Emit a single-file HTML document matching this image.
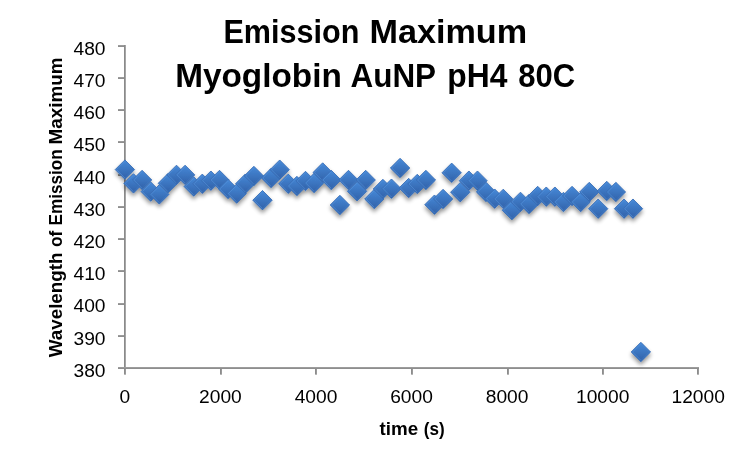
<!DOCTYPE html>
<html><head><meta charset="utf-8"><style>
html,body{margin:0;padding:0;background:#fff;width:751px;height:450px;overflow:hidden}
svg{display:block;will-change:transform}
text{font-family:"Liberation Sans",sans-serif;fill:#000}
</style></head><body>
<svg width="751" height="450" viewBox="0 0 751 450">
<defs>
<linearGradient id="g" x1="0" y1="0" x2="0" y2="1">
<stop offset="0" stop-color="#4689d8"/>
<stop offset="1" stop-color="#3161a8"/>
</linearGradient>
<filter id="sh" x="-50%" y="-50%" width="200%" height="200%">
<feGaussianBlur in="SourceAlpha" stdDeviation="2"/>
<feOffset dx="0" dy="3" result="b"/>
<feComponentTransfer><feFuncA type="linear" slope="0.42"/></feComponentTransfer>
<feMerge><feMergeNode/><feMergeNode in="SourceGraphic"/></feMerge>
</filter>
<g id="m"><polygon points="0,-9.7 9.7,0 0,9.7 -9.7,0" fill="url(#g)" stroke="#3a6fb8" stroke-width="0.9"/><polyline points="0,-8.3 -8.3,0 0,8.3" fill="none" stroke="#5a97e0" stroke-opacity="0.5" stroke-width="1"/><polyline points="0,-8.3 8.3,0 0,8.3" fill="none" stroke="#5592dc" stroke-opacity="0.2" stroke-width="0.9"/></g>
</defs>

<text transform="translate(225.30 42.6) scale(0.9411 1) translate(-2 0)" font-weight="bold" font-size="32.5">Emission</text>
<text transform="translate(371.50 42.6) scale(1.0527 1) translate(-2 0)" font-weight="bold" font-size="32.5">Maximum</text>
<text transform="translate(177.20 86.6) scale(1.0264 1) translate(-2 0)" font-weight="bold" font-size="32.5">Myoglobin</text>
<text transform="translate(351.50 86.6) scale(0.9667 1) translate(-1 0)" font-weight="bold" font-size="32.5">AuNP</text>
<text transform="translate(449.30 86.6) scale(0.9783 1) translate(-2 0)" font-weight="bold" font-size="32.5">pH4</text>
<text transform="translate(519.20 86.6) scale(0.9552 1) translate(-1 0)" font-weight="bold" font-size="32.5">80C</text>
<g shape-rendering="crispEdges">
<rect x="124" y="45" width="1" height="324" fill="#8a8a8a"/>
<rect x="125" y="45" width="1" height="324" fill="#a6a6a6"/>
<rect x="124" y="367" width="575" height="1" fill="#9c9c9c"/>
<rect x="124" y="368" width="575" height="1" fill="#8e8e8e"/>
<rect x="118" y="45" width="6" height="1" fill="#9c9c9c"/>
<rect x="118" y="46" width="6" height="1" fill="#8e8e8e"/>
<rect x="118" y="77" width="6" height="1" fill="#9c9c9c"/>
<rect x="118" y="78" width="6" height="1" fill="#8e8e8e"/>
<rect x="118" y="109" width="6" height="1" fill="#9c9c9c"/>
<rect x="118" y="110" width="6" height="1" fill="#8e8e8e"/>
<rect x="118" y="141" width="6" height="1" fill="#9c9c9c"/>
<rect x="118" y="142" width="6" height="1" fill="#8e8e8e"/>
<rect x="118" y="174" width="6" height="1" fill="#9c9c9c"/>
<rect x="118" y="175" width="6" height="1" fill="#8e8e8e"/>
<rect x="118" y="206" width="6" height="1" fill="#9c9c9c"/>
<rect x="118" y="207" width="6" height="1" fill="#8e8e8e"/>
<rect x="118" y="238" width="6" height="1" fill="#9c9c9c"/>
<rect x="118" y="239" width="6" height="1" fill="#8e8e8e"/>
<rect x="118" y="270" width="6" height="1" fill="#9c9c9c"/>
<rect x="118" y="271" width="6" height="1" fill="#8e8e8e"/>
<rect x="118" y="303" width="6" height="1" fill="#9c9c9c"/>
<rect x="118" y="304" width="6" height="1" fill="#8e8e8e"/>
<rect x="118" y="335" width="6" height="1" fill="#9c9c9c"/>
<rect x="118" y="336" width="6" height="1" fill="#8e8e8e"/>
<rect x="118" y="367" width="6" height="1" fill="#9c9c9c"/>
<rect x="118" y="368" width="6" height="1" fill="#8e8e8e"/>
<rect x="124" y="369" width="1" height="5" fill="#8c8c8c"/>
<rect x="125" y="369" width="1" height="5" fill="#9a9a9a"/>
<rect x="124" y="374" width="2" height="1" fill="#b8b8b8"/>
<rect x="220" y="369" width="1" height="5" fill="#8c8c8c"/>
<rect x="221" y="369" width="1" height="5" fill="#9a9a9a"/>
<rect x="220" y="374" width="2" height="1" fill="#b8b8b8"/>
<rect x="315" y="369" width="1" height="5" fill="#8c8c8c"/>
<rect x="316" y="369" width="1" height="5" fill="#9a9a9a"/>
<rect x="315" y="374" width="2" height="1" fill="#b8b8b8"/>
<rect x="411" y="369" width="1" height="5" fill="#8c8c8c"/>
<rect x="412" y="369" width="1" height="5" fill="#9a9a9a"/>
<rect x="411" y="374" width="2" height="1" fill="#b8b8b8"/>
<rect x="507" y="369" width="1" height="5" fill="#8c8c8c"/>
<rect x="508" y="369" width="1" height="5" fill="#9a9a9a"/>
<rect x="507" y="374" width="2" height="1" fill="#b8b8b8"/>
<rect x="602" y="369" width="1" height="5" fill="#8c8c8c"/>
<rect x="603" y="369" width="1" height="5" fill="#9a9a9a"/>
<rect x="602" y="374" width="2" height="1" fill="#b8b8b8"/>
<rect x="697" y="369" width="1" height="5" fill="#8c8c8c"/>
<rect x="698" y="369" width="1" height="5" fill="#9a9a9a"/>
<rect x="697" y="374" width="2" height="1" fill="#b8b8b8"/>
</g>
<text x="105.5" y="54.80" font-size="19.2" text-anchor="end">480</text>
<text x="105.5" y="87.00" font-size="19.2" text-anchor="end">470</text>
<text x="105.5" y="119.20" font-size="19.2" text-anchor="end">460</text>
<text x="105.5" y="151.40" font-size="19.2" text-anchor="end">450</text>
<text x="105.5" y="183.60" font-size="19.2" text-anchor="end">440</text>
<text x="105.5" y="215.80" font-size="19.2" text-anchor="end">430</text>
<text x="105.5" y="248.00" font-size="19.2" text-anchor="end">420</text>
<text x="105.5" y="280.20" font-size="19.2" text-anchor="end">410</text>
<text x="105.5" y="312.40" font-size="19.2" text-anchor="end">400</text>
<text x="105.5" y="344.60" font-size="19.2" text-anchor="end">390</text>
<text x="105.5" y="376.80" font-size="19.2" text-anchor="end">380</text>
<text x="124.90" y="403" font-size="19.2" text-anchor="middle">0</text>
<text x="220.45" y="403" font-size="19.2" text-anchor="middle">2000</text>
<text x="316.00" y="403" font-size="19.2" text-anchor="middle">4000</text>
<text x="411.55" y="403" font-size="19.2" text-anchor="middle">6000</text>
<text x="507.10" y="403" font-size="19.2" text-anchor="middle">8000</text>
<text x="602.65" y="403" font-size="19.2" text-anchor="middle">10000</text>
<text x="698.20" y="403" font-size="19.2" text-anchor="middle">12000</text>
<text transform="translate(379.50 434.7) scale(1.0270 1) translate(0 0)" font-weight="bold" font-size="18.3">time</text>
<text transform="translate(424.80 434.7) scale(0.9333 1) translate(-1 0)" font-weight="bold" font-size="18.3">(s)</text>
<text transform="translate(62.1 357.20) rotate(-90) scale(1.0267 1) translate(0 0)" font-weight="bold" font-size="18.3">Wavelength</text>
<text transform="translate(62.1 247.00) rotate(-90) scale(0.9444 1) translate(0 0)" font-weight="bold" font-size="18.3">of</text>
<text transform="translate(62.1 224.50) rotate(-90) scale(0.9367 1) translate(-1 0)" font-weight="bold" font-size="18.3">Emission</text>
<text transform="translate(62.1 143.50) rotate(-90) scale(1.0325 1) translate(-1 0)" font-weight="bold" font-size="18.3">Maximum</text>
<g filter="url(#sh)">
<use href="#m" x="124.90" y="169.60"/>
<use href="#m" x="133.50" y="183.40"/>
<use href="#m" x="142.10" y="180.00"/>
<use href="#m" x="150.70" y="191.60"/>
<use href="#m" x="159.30" y="194.40"/>
<use href="#m" x="167.90" y="183.30"/>
<use href="#m" x="176.50" y="174.90"/>
<use href="#m" x="185.10" y="174.90"/>
<use href="#m" x="193.70" y="186.50"/>
<use href="#m" x="202.30" y="183.80"/>
<use href="#m" x="210.90" y="180.70"/>
<use href="#m" x="219.49" y="180.00"/>
<use href="#m" x="228.09" y="189.00"/>
<use href="#m" x="236.69" y="193.60"/>
<use href="#m" x="245.29" y="183.70"/>
<use href="#m" x="253.89" y="176.00"/>
<use href="#m" x="262.49" y="200.20"/>
<use href="#m" x="271.09" y="178.00"/>
<use href="#m" x="279.69" y="169.70"/>
<use href="#m" x="288.29" y="183.80"/>
<use href="#m" x="296.89" y="186.00"/>
<use href="#m" x="305.49" y="181.00"/>
<use href="#m" x="314.09" y="183.00"/>
<use href="#m" x="322.69" y="172.50"/>
<use href="#m" x="331.29" y="180.00"/>
<use href="#m" x="339.89" y="205.00"/>
<use href="#m" x="348.49" y="180.00"/>
<use href="#m" x="357.09" y="191.30"/>
<use href="#m" x="365.69" y="180.00"/>
<use href="#m" x="374.29" y="199.00"/>
<use href="#m" x="382.88" y="189.00"/>
<use href="#m" x="391.48" y="188.70"/>
<use href="#m" x="400.08" y="168.00"/>
<use href="#m" x="408.68" y="188.00"/>
<use href="#m" x="417.28" y="184.00"/>
<use href="#m" x="425.88" y="180.00"/>
<use href="#m" x="434.48" y="204.70"/>
<use href="#m" x="443.08" y="199.00"/>
<use href="#m" x="451.68" y="172.80"/>
<use href="#m" x="460.28" y="192.20"/>
<use href="#m" x="468.88" y="180.70"/>
<use href="#m" x="477.48" y="180.70"/>
<use href="#m" x="486.08" y="192.00"/>
<use href="#m" x="494.68" y="198.70"/>
<use href="#m" x="503.28" y="198.90"/>
<use href="#m" x="511.88" y="210.20"/>
<use href="#m" x="520.48" y="201.90"/>
<use href="#m" x="529.08" y="204.00"/>
<use href="#m" x="537.68" y="196.00"/>
<use href="#m" x="546.28" y="196.70"/>
<use href="#m" x="554.88" y="196.70"/>
<use href="#m" x="563.47" y="202.00"/>
<use href="#m" x="572.07" y="196.00"/>
<use href="#m" x="580.67" y="202.00"/>
<use href="#m" x="589.27" y="192.00"/>
<use href="#m" x="598.17" y="208.70"/>
<use href="#m" x="606.77" y="191.00"/>
<use href="#m" x="615.87" y="192.00"/>
<use href="#m" x="624.07" y="208.70"/>
<use href="#m" x="632.97" y="208.70"/>
<use href="#m" x="640.87" y="352.00"/>
</g>
</svg></body></html>
